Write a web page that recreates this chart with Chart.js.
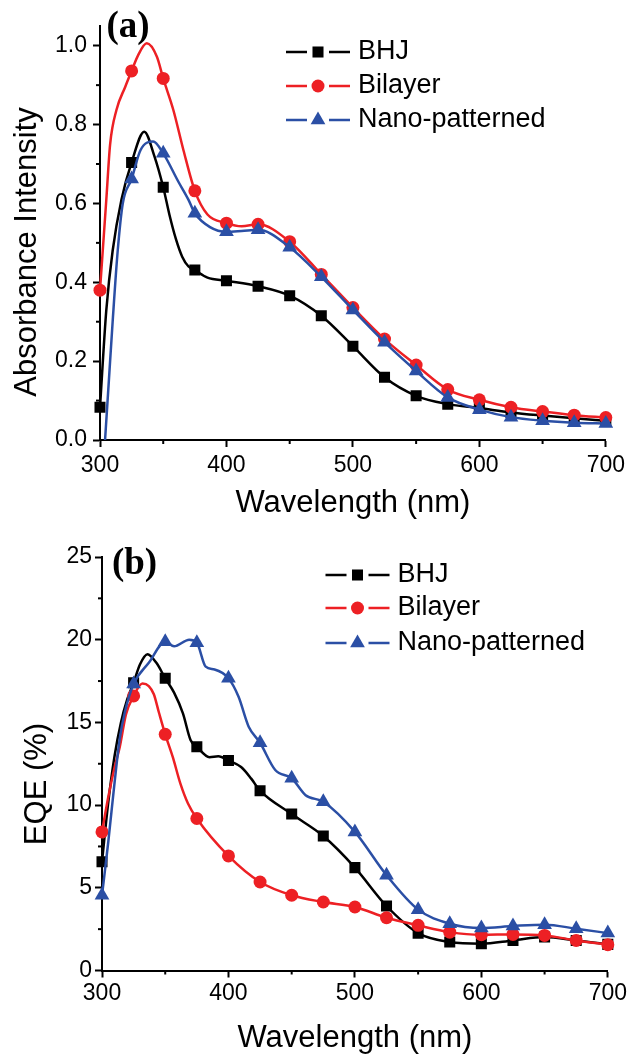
<!DOCTYPE html>
<html>
<head>
<meta charset="utf-8">
<script src="https://cdn.jsdelivr.net/npm/chart.js@4.4.0/dist/chart.umd.min.js"></script>
<style>
  html, body { margin: 0; padding: 0; background: #fff; }
  #wrap { position: relative; width: 632px; height: 1054px; }
  canvas { position: absolute; left: 0; }
  #ca { top: 0; }
  #cb { top: 527px; }
</style>
</head>
<body>
<div id="wrap">
  <canvas id="ca" width="632" height="527"></canvas>
  <canvas id="cb" width="632" height="527"></canvas>
</div>
<script>
const FONT = "'Liberation Sans', Arial, Helvetica, sans-serif";
const SERIF = "'Liberation Serif', 'Times New Roman', serif";

const seriesNames = ["BHJ", "Bilayer", "Nano-patterned"];
const xTicks = [300, 400, 500, 600, 700];
const xMinor = [350, 450, 550, 650];
const absTicks = [0, 0.2, 0.4, 0.6, 0.8, 1.0];
const absMinor = [0.1, 0.3, 0.5, 0.7, 0.9];
const eqeTicks = [0, 5, 10, 15, 20, 25];
const eqeMinor = [2.5, 7.5, 12.5, 17.5, 22.5];

// (a) absorbance
const absBhjX = [300, 305, 310, 317, 325, 335, 343, 350, 355, 360, 365, 370, 375, 385, 400, 425, 450, 475, 500, 525, 550, 575, 600, 625, 650, 675, 700];
const absBhjY = [0.083, 0.33, 0.48, 0.61, 0.704, 0.782, 0.72, 0.641, 0.57, 0.51, 0.465, 0.44, 0.431, 0.412, 0.404, 0.39, 0.366, 0.315, 0.238, 0.159, 0.112, 0.091, 0.081, 0.07, 0.062, 0.055, 0.049];
const absBilX = [300, 305, 308, 313, 320, 325, 330, 337, 345, 350, 358, 366, 375, 385, 400, 412, 425, 450, 475, 500, 525, 550, 575, 600, 625, 650, 675, 700];
const absBilY = [0.38, 0.61, 0.75, 0.837, 0.896, 0.936, 0.975, 1.006, 0.972, 0.917, 0.837, 0.735, 0.632, 0.572, 0.55, 0.542, 0.547, 0.503, 0.42, 0.336, 0.256, 0.19, 0.128, 0.102, 0.083, 0.072, 0.063, 0.057];
const absNanoX = [304, 307, 310, 314, 318, 325, 332, 342, 350, 362, 370, 375, 387, 400, 412, 425, 450, 475, 500, 525, 550, 575, 600, 625, 650, 675, 700];
const absNanoY = [0, 0.15, 0.30, 0.48, 0.60, 0.662, 0.735, 0.757, 0.727, 0.655, 0.609, 0.575, 0.54, 0.528, 0.53, 0.533, 0.489, 0.414, 0.33, 0.248, 0.175, 0.108, 0.077, 0.058, 0.049, 0.044, 0.042];

// (b) EQE (%)
const eqeBhjX = [300, 305, 310, 315, 320, 325, 330, 336, 343, 350, 357, 364, 370, 375, 385, 392, 400, 410, 418, 425, 450, 475, 500, 525, 550, 575, 600, 625, 650, 675, 700];
const eqeBhjY = [6.57, 10.2, 13.0, 15.0, 16.4, 17.4, 18.5, 19.12, 18.6, 17.67, 16.8, 15.55, 13.94, 13.53, 12.9, 12.95, 12.7, 12.3, 11.6, 10.87, 9.46, 8.13, 6.22, 3.9, 2.26, 1.72, 1.62, 1.82, 2.02, 1.82, 1.58];
const eqeBilX = [300, 305, 310, 314, 319, 325, 332, 337, 341, 345, 350, 356, 362, 368, 375, 400, 425, 450, 475, 500, 525, 550, 575, 600, 625, 650, 675, 700];
const eqeBilY = [8.38, 10.5, 12.3, 13.5, 15.5, 16.6, 17.35, 17.2, 16.7, 15.6, 14.28, 12.9, 11.3, 10.1, 9.19, 6.93, 5.35, 4.55, 4.14, 3.84, 3.19, 2.73, 2.32, 2.16, 2.18, 2.12, 1.82, 1.56];
const eqeNanoX = [300, 305, 310, 314, 318, 325, 337, 350, 357, 369, 375, 382, 389, 400, 408, 416, 425, 437, 450, 461, 475, 500, 525, 550, 575, 600, 625, 650, 675, 700];
const eqeNanoY = [4.55, 7.8, 11.4, 14.0, 15.6, 17.32, 18.6, 19.88, 19.6, 20.0, 19.82, 18.37, 18.2, 17.67, 16.55, 14.74, 13.77, 12.12, 11.62, 10.6, 10.2, 8.38, 5.76, 3.68, 2.83, 2.57, 2.69, 2.77, 2.53, 2.26];

const styles = [
  { color: "#000000", shape: "rect", r: 7.8 },
  { color: "#ed2024", shape: "circle", r: 6.5 },
  { color: "#2b4fa5", shape: "triangle", r: 8.5 }
];

const pts = (xs, ys) => xs.map((x, i) => ({ x: x, y: ys[i] }));

function ds(i, data) {
  const st = styles[i];
  return {
    label: seriesNames[i],
    data: data,
    borderColor: st.color,
    backgroundColor: st.color,
    borderWidth: 2.5,
    cubicInterpolationMode: "monotone",
    pointStyle: st.shape,
    pointRadius: c => (c.raw && c.raw.x % 25 === 0) ? st.r : 0,
    pointHoverRadius: 0,
    pointBorderWidth: 0,
    pointBackgroundColor: st.color,
    order: 3 - i,
    clip: 10
  };
}

function marker(ctx, shape, x, y, r) {
  ctx.beginPath();
  if (shape === "rect") {
    const s = r * Math.SQRT1_2;
    ctx.rect(x - s, y - s, 2 * s, 2 * s);
  } else if (shape === "circle") {
    ctx.arc(x, y, r, 0, Math.PI * 2);
  } else {
    ctx.moveTo(x, y - r);
    ctx.lineTo(x + r * 0.866, y + r * 0.5);
    ctx.lineTo(x - r * 0.866, y + r * 0.5);
    ctx.closePath();
  }
  ctx.fill();
}

// minor ticks, legend, panel letter and y title
const extras = {
  id: "extras",
  afterDraw(chart, args, o) {
    const ctx = chart.ctx, area = chart.chartArea;
    const xs = chart.scales.x, ys = chart.scales.y;
    ctx.save();
    ctx.strokeStyle = "#000";
    ctx.lineWidth = 2;
    o.xMinor.forEach(v => {
      const p = xs.getPixelForValue(v);
      ctx.beginPath(); ctx.moveTo(p, area.bottom); ctx.lineTo(p, area.bottom + 4); ctx.stroke();
    });
    o.yMinor.forEach(v => {
      const p = ys.getPixelForValue(v);
      ctx.beginPath(); ctx.moveTo(area.left, p); ctx.lineTo(area.left - 4, p); ctx.stroke();
    });

    // legend
    ctx.font = "27px " + FONT;
    ctx.textAlign = "left";
    ctx.textBaseline = "middle";
    chart.data.datasets.forEach((d, i) => {
      const st = styles[i], y = o.legendY[i];
      ctx.strokeStyle = st.color;
      ctx.fillStyle = st.color;
      ctx.lineWidth = 2.5;
      ctx.beginPath();
      ctx.moveTo(o.legendX - 32, y); ctx.lineTo(o.legendX - 11, y);
      ctx.moveTo(o.legendX + 11, y); ctx.lineTo(o.legendX + 32, y);
      ctx.stroke();
      marker(ctx, st.shape, o.legendX, y, st.r);
      ctx.fillStyle = "#000";
      ctx.fillText(d.label, o.legendX + 40, y);
    });

    // panel letter
    ctx.font = "bold 37px " + SERIF;
    ctx.textAlign = "center";
    ctx.fillStyle = "#000";
    ctx.fillText(o.letter, o.letterX, o.letterY);

    // y title
    ctx.translate(o.yTitleX, o.yTitleY);
    ctx.rotate(-Math.PI / 2);
    ctx.font = "31px " + FONT;
    ctx.fillText(o.yTitle, 0, 0);
    ctx.restore();
  }
};

function makeChart(id, datasets, p) {
  return new Chart(document.getElementById(id), {
    type: "line",
    data: { datasets: datasets },
    options: {
      responsive: false,
      animation: false,
      devicePixelRatio: 1,
      layout: { padding: { left: 0, right: p.right, top: p.top, bottom: 0 } },
      plugins: {
        legend: { display: false },
        tooltip: { enabled: false },
        extras: p.extras
      },
      scales: {
        x: {
          type: "linear",
          min: 300,
          max: 700,
          afterBuildTicks: s => { s.ticks = xTicks.map(v => ({ value: v })); },
          afterFit: s => { s.height = p.xHeight; },
          border: { display: true, color: "#000", width: 2 },
          grid: { display: true, drawOnChartArea: false, drawTicks: true, tickLength: 7, tickWidth: 2, tickColor: "#000" },
          ticks: { color: "#000", font: { family: FONT, size: 23, lineHeight: 1 }, padding: p.xPad, maxRotation: 0, callback: v => String(v) },
          title: { display: true, text: "Wavelength (nm)", color: "#000", font: { family: FONT, size: 31, lineHeight: 1 }, padding: { top: 0, bottom: p.xTitlePad } }
        },
        y: {
          type: "linear",
          min: 0,
          max: p.yMax,
          afterBuildTicks: s => { s.ticks = p.yTicks.map(v => ({ value: v })); },
          afterFit: s => { s.width = p.left; },
          border: { display: true, color: "#000", width: 2 },
          grid: { display: true, drawOnChartArea: false, drawTicks: true, tickLength: 7, tickWidth: 2, tickColor: "#000" },
          ticks: { color: "#000", font: { family: FONT, size: 23, lineHeight: 1 }, padding: p.yPad, callback: p.yLabel }
        }
      }
    },
    plugins: [extras]
  });
}

makeChart("ca", [
  ds(0, pts(absBhjX, absBhjY)),
  ds(1, pts(absBilX, absBilY)),
  ds(2, pts(absNanoX, absNanoY))
], {
  left: 100, right: 25, top: 26, xHeight: 87, xPad: 7, xTitlePad: 8, yPad: 6,
  yMax: 1.05, yTicks: absTicks, yLabel: v => Number(v).toFixed(1),
  extras: {
    xMinor: xMinor, yMinor: absMinor,
    legendX: 318, legendY: [52, 86, 120],
    letter: "(a)", letterX: 128, letterY: 27,
    yTitle: "Absorbance Intensity", yTitleX: 27, yTitleY: 252
  }
});

makeChart("cb", [
  ds(0, pts(eqeBhjX, eqeBhjY)),
  ds(1, pts(eqeBilX, eqeBilY)),
  ds(2, pts(eqeNanoX, eqeNanoY))
], {
  left: 102, right: 22, top: 30, xHeight: 83.5, xPad: 5, xTitlePad: 0, yPad: 3,
  yMax: 25, yTicks: eqeTicks, yLabel: v => String(v),
  extras: {
    xMinor: xMinor, yMinor: eqeMinor,
    legendX: 357.5, legendY: [48, 81, 116],
    letter: "(b)", letterX: 134.5, letterY: 37,
    yTitle: "EQE (%)", yTitleX: 37, yTitleY: 257
  }
});
</script>
</body>
</html>
